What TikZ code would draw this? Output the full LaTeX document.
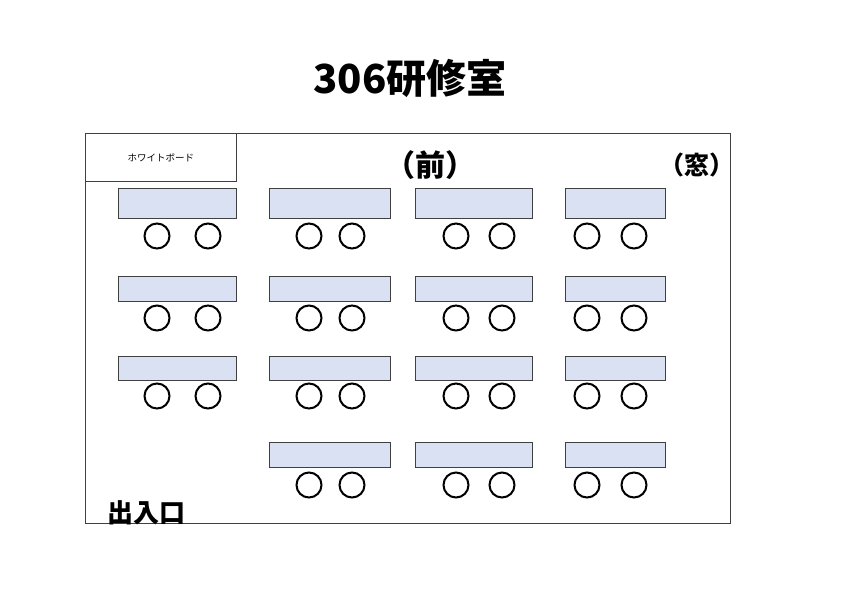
\documentclass[tikz,border=0pt]{standalone}
\usepackage{fontspec}
\newfontfamily\jp{Noto Sans CJK JP}
\usetikzlibrary{positioning}
\definecolor{deskblue}{HTML}{DAE1F3}

\begin{document}
\begin{tikzpicture}[x=1pt,y=-1pt,font=\jp]
    \tikzstyle{desk}=[draw=black!75,fill=deskblue,thick,inner sep=0pt];
    \tikzstyle{chair}=[draw,circle,line width=2pt,minimum size=25pt,inner sep=0pt];
    \useasboundingbox (0,0) rectangle (842,595);

    \node[font=\jp\bfseries\fontsize{40}{44}\selectfont] (title) at (410,78) {306研修室};
    \draw[thick,draw=black!75] (85,133) rectangle (730,523);
    \node[draw,thick,draw=black!75,minimum width=151pt,minimum height=48pt,inner sep=0pt,font=\jp\fontsize{9.5}{10}\selectfont,anchor=north west] (board) at (85,133) {ホワイトボード};

    \node[font=\jp\bfseries\fontsize{30}{32}\selectfont] (front) at (430,165) {（前）};
    \node[font=\jp\bfseries\fontsize{25}{28}\selectfont] (window) at (697,165) {（窓）};
    \node[font=\jp\bfseries\fontsize{26}{28}\selectfont] (door) at (146,513) {出入口};

    % desks and chairs
    \foreach \c/\xa/\xb/\ca/\cb in {1/118/236/157/208, 2/269/390/309/352, 3/415/532/456/502, 4/565/665/587/634}
      \foreach \r/\ya/\yb/\cy in {1/188/218/236, 2/276/301/318, 3/356/380/396, 4/442/467/485} {
        \ifnum\c\r=14\else
        \draw[desk] (\xa,\ya) rectangle (\xb,\yb);
        \node[chair] (ch\c\r a) at (\ca,\cy) {};
        \node[chair] (ch\c\r b) at (\cb,\cy) {};
        \fi
      }
\end{tikzpicture}
\end{document}
